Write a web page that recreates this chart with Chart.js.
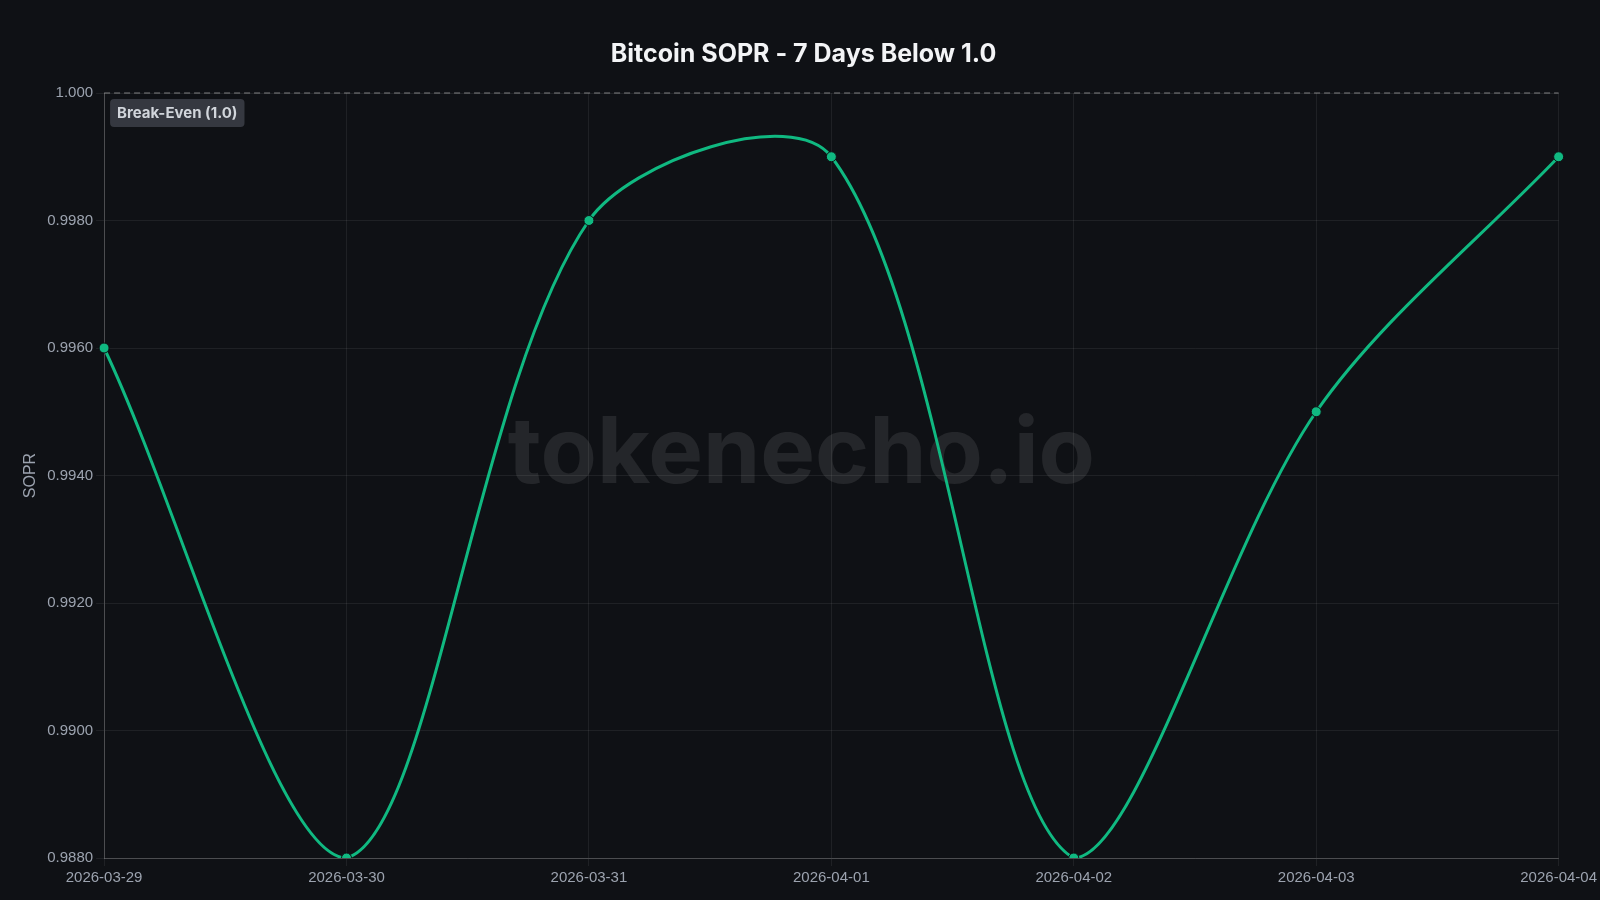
<!DOCTYPE html>
<html>
<head>
<meta charset="utf-8">
<script src="https://cdn.jsdelivr.net/npm/chart.js@4"></script>
<style>
  html, body { margin: 0; padding: 0; background: #0f1115; }
  #wrap { width: 1600px; height: 900px; }
</style>
</head>
<body>
<div id="wrap"><canvas id="soprChart"></canvas></div>
<script>
const dates = ['2026-03-29', '2026-03-30', '2026-03-31', '2026-04-01', '2026-04-02', '2026-04-03', '2026-04-04'];
const soprValues = [0.996, 0.988, 0.998, 0.999, 0.988, 0.995, 0.999];
const breakEven = 1.0;

// dashed break-even line, its label and the watermark
const overlayPlugin = {
    id: 'overlay',
    beforeDatasetsDraw(chart) {
        const { ctx, chartArea } = chart;
        ctx.save();
        ctx.font = 'bold 92px Inter, "Noto Sans", sans-serif';
        ctx.fillStyle = 'rgba(255,255,255,0.09)';
        ctx.textAlign = 'center';
        ctx.textBaseline = 'middle';
        ctx.fillText('tokenecho.io', (chartArea.left + chartArea.right) / 2 - 30, (chartArea.top + chartArea.bottom) / 2 - 20);
        ctx.restore();
    },
    afterDatasetsDraw(chart) {
        const { ctx, chartArea, scales } = chart;
        const y = scales.y.getPixelForValue(breakEven);
        ctx.save();
        ctx.strokeStyle = 'rgba(200,200,200,0.6)';
        ctx.lineWidth = 1;
        ctx.setLineDash([6, 4]);
        ctx.beginPath();
        ctx.moveTo(chartArea.left, y);
        ctx.lineTo(chartArea.right, y);
        ctx.stroke();
        ctx.setLineDash([]);
        ctx.font = 'bold 15px Inter, "Noto Sans", sans-serif';
        const text = 'Break-Even (1.0)';
        const w = ctx.measureText(text).width + 14;
        ctx.fillStyle = 'rgba(60,64,72,0.85)';
        ctx.beginPath();
        ctx.roundRect(chartArea.left + 6, y + 6, w, 28, 4);
        ctx.fill();
        ctx.fillStyle = '#d1d5db';
        ctx.textBaseline = 'middle';
        ctx.fillText(text, chartArea.left + 13, y + 20);
        ctx.restore();
    }
};

const ctx = document.getElementById('soprChart').getContext('2d');
new Chart(ctx, {
    type: 'line',
    data: {
        labels: dates,
        datasets: [{
            label: 'SOPR',
            data: soprValues,
            borderColor: '#10b981',
            backgroundColor: '#10b981',
            borderWidth: 3,
            tension: 0.32,
            pointRadius: 5,
            pointBorderColor: '#0f1115',
            pointBorderWidth: 1,
            fill: false
        }]
    },
    options: {
        responsive: true,
        maintainAspectRatio: false,
        animation: false,
        layout: { padding: { left: 17, right: 10, top: 21, bottom: 10 } },
        plugins: {
            legend: { display: false },
            title: {
                display: true,
                text: 'Bitcoin SOPR - 7 Days Below 1.0',
                color: '#f3f4f6',
                font: { size: 25, weight: 'bold', family: 'Inter, "Noto Sans", sans-serif' },
                padding: { top: 18, bottom: 24 }
            }
        },
        scales: {
            x: {
                offset: false,
                grid: { color: 'rgba(255,255,255,0.07)' },
                border: { color: 'rgba(255,255,255,0.2)' },
                ticks: { color: '#9ca3af', font: { size: 15 }, maxRotation: 0 }
            },
            y: {
                min: 0.988,
                max: 1.0,
                grid: { color: 'rgba(255,255,255,0.07)' },
                border: { color: 'rgba(255,255,255,0.2)' },
                ticks: {
                    stepSize: 0.002,
                    color: '#9ca3af',
                    font: { size: 15 },
                    callback: v => Math.abs(v - 1) < 1e-9 ? '1.000' : v.toFixed(4)
                },
                title: { display: true, text: 'SOPR', color: '#9ca3af', font: { size: 16 } }
            }
        }
    },
    plugins: [overlayPlugin]
});
</script>
</body>
</html>
